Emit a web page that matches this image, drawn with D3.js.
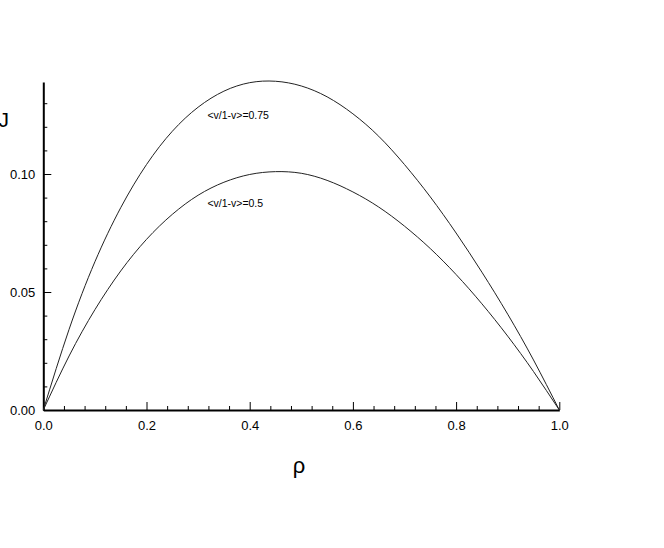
<!DOCTYPE html>
<html>
<head>
<meta charset="utf-8">
<script src="https://cdn.jsdelivr.net/npm/d3@7"></script>
<style>
  body { margin: 0; background: #fff; }
  svg { display: block; font-family: "Liberation Sans", Arial, sans-serif; }
</style>
</head>
<body>
<div id="chart"></div>
<script>
// densities
var rho = [0, 0.05, 0.1, 0.15, 0.2, 0.25, 0.3, 0.35, 0.4, 0.45, 0.5,
           0.55, 0.6, 0.65, 0.7, 0.75, 0.8, 0.85, 0.9, 0.95, 1.0];
// <v/1-v>=0.75
var jHigh = [0, 0.0342, 0.0628, 0.0857, 0.1040, 0.1181, 0.1283, 0.1351, 0.1387, 0.1393, 0.1373,
             0.1327, 0.1255, 0.1160, 0.1040, 0.0903, 0.0750, 0.0584, 0.0406, 0.0212, 0];
// <v/1-v>=0.5
var jLow = [0, 0.0229, 0.0425, 0.0589, 0.0723, 0.0829, 0.0910, 0.0965, 0.0998, 0.1010, 0.1003,
            0.0973, 0.0924, 0.0860, 0.0779, 0.0684, 0.0574, 0.0450, 0.0313, 0.0163, 0];
var curveLabels = ['<v/1-v>=0.75', '<v/1-v>=0.5'];
var labelPos = [[0.318, 0.1235], [0.318, 0.0862]];

var xMajor = [0, 0.2, 0.4, 0.6, 0.8, 1.0];
var yMajor = [0, 0.05, 0.10];

var W = 664, H = 548;
var svg = d3.select('#chart').append('svg')
    .attr('width', W)
    .attr('height', H);
svg.append('rect').attr('width', W).attr('height', H).attr('fill', '#fff');

var x = d3.scaleLinear().domain([0, 1]).range([43.3, 559.3]);
var y = d3.scaleLinear().domain([0, 0.139]).range([410, 410 - 0.139 * 2360]);

// minor ticks
var xMinor = d3.range(0, 1.0001, 0.04).map(v => +v.toFixed(2)).filter(v => xMajor.indexOf(v) < 0);
var yMinor = d3.range(0.01, 0.135, 0.01).map(v => +v.toFixed(2)).filter(v => yMajor.indexOf(v) < 0);

svg.append('g')
    .attr('transform', 'translate(0,410)')
    .call(d3.axisBottom(x).tickValues(xMinor).tickSize(-4).tickFormat(''))
    .call(g => g.select('.domain').remove());
svg.append('g')
    .attr('transform', 'translate(43.3,0)')
    .call(d3.axisLeft(y).tickValues(yMinor).tickSize(-4).tickFormat(''))
    .call(g => g.select('.domain').remove());

var xAxis = svg.append('g')
    .attr('transform', 'translate(0,410)')
    .call(d3.axisBottom(x).tickValues(xMajor).tickSize(-8).tickSizeOuter(0)
        .tickPadding(11).tickFormat(d3.format('.1f')));
var yAxis = svg.append('g')
    .attr('transform', 'translate(43.3,0)')
    .call(d3.axisLeft(y).tickValues(yMajor).tickSize(-8).tickSizeOuter(0)
        .tickPadding(8).tickFormat(d3.format('.2f')));

[xAxis, yAxis].forEach(function(g) {
    g.select('.domain').attr('stroke-width', 2);
    g.selectAll('text').attr('font-size', 13).attr('fill', '#000')
        .attr('font-family', '"Liberation Sans", Arial, sans-serif');
});
yAxis.selectAll('text').attr('dy', '0.38em');
svg.selectAll('.tick line').attr('stroke', '#000');

var line = d3.line()
    .x((d, i) => x(rho[i]))
    .y(d => y(d))
    .curve(d3.curveNatural);

[jHigh, jLow].forEach(function(s) {
    svg.append('path')
        .attr('d', line(s))
        .attr('fill', 'none')
        .attr('stroke', '#222')
        .attr('stroke-width', 1);
});

curveLabels.forEach(function(t, i) {
    svg.append('text')
        .attr('x', x(labelPos[i][0]))
        .attr('y', y(labelPos[i][1]))
        .attr('font-size', 10.5)
        .text(t);
});

// axis titles
svg.append('text')
    .attr('x', 9).attr('y', 127)
    .attr('text-anchor', 'end')
    .attr('font-size', 21)
    .text('J');
svg.append('text')
    .attr('x', 299).attr('y', 473)
    .attr('text-anchor', 'middle')
    .attr('font-size', 22)
    .text('ρ');
</script>
</body>
</html>
